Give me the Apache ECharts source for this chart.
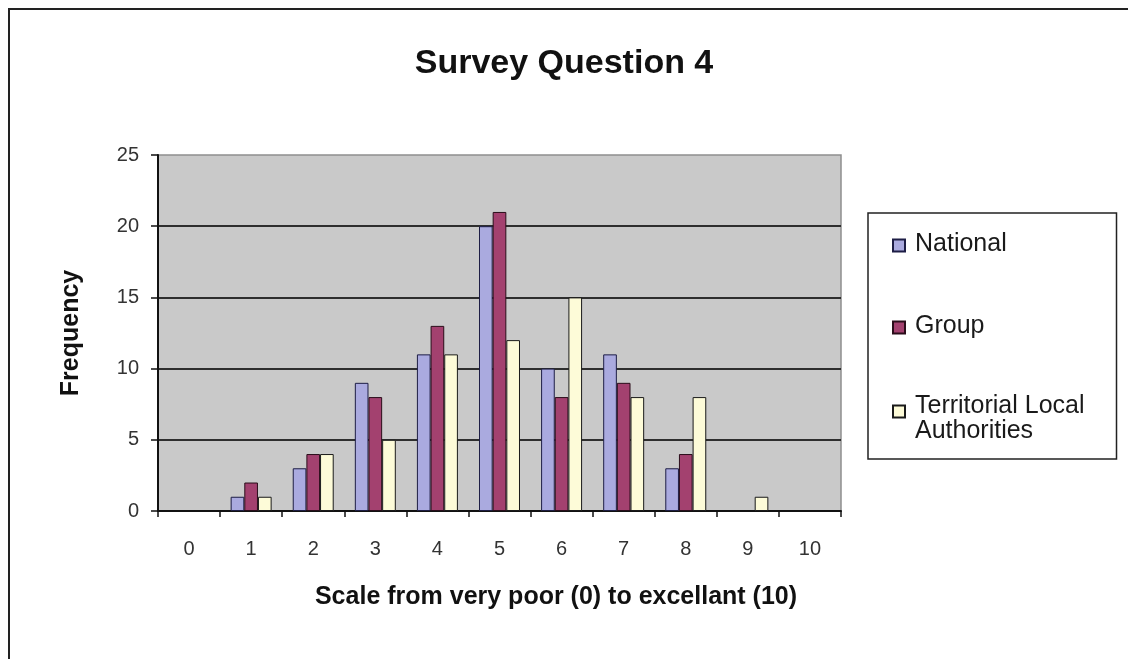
<!DOCTYPE html>
<html>
<head>
<meta charset="utf-8">
<title>Survey Question 4</title>
<script src="https://cdn.jsdelivr.net/npm/echarts@6/dist/echarts.min.js"></script>
<style>
  html, body { margin: 0; padding: 0; background: #ffffff; }
  #chart { width: 1128px; height: 659px; }
</style>
</head>
<body>
<div id="chart"></div>
<script>
// Scale points 0..10 on the x axis
const categories = ['0', '1', '2', '3', '4', '5', '6', '7', '8', '9', '10'];

// Frequency of answers per respondent group
const nationalValues = [0, 1, 3, 9, 11, 20, 10, 11, 3, 0, 0];
const groupValues = [0, 2, 4, 8, 13, 21, 8, 9, 4, 0, 0];
const territorialValues = [0, 1, 4, 5, 11, 12, 15, 8, 8, 1, 0];

const seriesNames = ['National', 'Group', 'Territorial Local\nAuthorities'];

const FONT = "'Liberation Sans', Arial, Helvetica, sans-serif";

// Legend icons: a small square inside a taller box so the square lines up with the first text line
const iconSingle = 'path://M0,0 M17,37 M0,14h12v12h-12z';
const iconDouble = 'path://M0,0 M17,37 M0,5.5h12v12h-12z';

// Zero counts get no outline, so empty categories stay empty
function barData(values) {
  return values.map(function (v) {
    return v === 0 ? { value: v, itemStyle: { borderWidth: 0, opacity: 0 } } : v;
  });
}

const chart = echarts.init(document.getElementById('chart'), null, { renderer: 'canvas' });

const option = {
  backgroundColor: '#ffffff',
  animation: false,
  textStyle: { fontFamily: FONT },
  title: {
    text: 'Survey Question 4',
    left: 'center',
    top: 47,
    padding: 0,
    textStyle: { fontFamily: FONT, fontSize: 34, fontWeight: 'bold', color: '#111111' }
  },
  graphic: [{
    type: 'rect',
    z: -10,
    shape: { x: 9, y: 9, width: 1200, height: 700 },
    style: { fill: 'none', stroke: '#222222', lineWidth: 2 }
  }],
  legend: {
    orient: 'vertical',
    left: 868,
    top: 213,
    padding: [11.5, 32, 10.5, 24],
    itemGap: 43,
    itemWidth: 17,
    itemHeight: 37,
    backgroundColor: '#ffffff',
    borderColor: '#222222',
    borderWidth: 1.5,
    textStyle: { fontFamily: FONT, fontSize: 25, color: '#1a1a1a' },
    data: [
      { name: seriesNames[0], icon: iconSingle },
      { name: seriesNames[1], icon: iconSingle },
      { name: seriesNames[2], icon: iconDouble, textStyle: { padding: [10, 0, 0, 0], lineHeight: 25 } }
    ]
  },
  grid: {
    left: 158,
    right: 287,
    top: 155,
    bottom: 148,
    show: true,
    backgroundColor: '#c9c9c9',
    borderColor: '#8e8e8e',
    borderWidth: 1.5
  },
  xAxis: {
    type: 'category',
    data: categories,
    boundaryGap: true,
    name: 'Scale from very poor (0) to excellant (10)',
    nameLocation: 'middle',
    nameGap: 73.5,
    nameTextStyle: {
      fontFamily: FONT, fontSize: 25, fontWeight: 'bold', color: '#111111',
      padding: [0, 0, 0, 113]
    },
    axisLine: { show: true, lineStyle: { color: '#111111', width: 2 } },
    axisTick: { show: true, length: 6, lineStyle: { color: '#111111', width: 1.5 } },
    axisLabel: { fontFamily: FONT, fontSize: 20, color: '#333333', margin: 28 },
    splitLine: { show: false }
  },
  yAxis: {
    type: 'value',
    min: 0,
    max: 25,
    interval: 5,
    name: 'Frequency',
    nameLocation: 'middle',
    nameGap: 74.5,
    nameTextStyle: { fontFamily: FONT, fontSize: 25, fontWeight: 'bold', color: '#111111' },
    axisLine: { show: true, lineStyle: { color: '#111111', width: 2 } },
    axisTick: { show: true, length: 7, lineStyle: { color: '#111111', width: 1.5 } },
    axisLabel: { fontFamily: FONT, fontSize: 20, color: '#333333', margin: 19 },
    splitLine: {
      show: true,
      showMaxLine: false,
      lineStyle: { color: '#2e2e2e', width: 2 }
    }
  },
  series: [
    {
      name: seriesNames[0],
      type: 'bar',
      data: barData(nationalValues),
      barGap: '0%',
      barCategoryGap: '34%',
      itemStyle: { color: '#aaaadf', borderColor: '#1d1d45', borderWidth: 1 }
    },
    {
      name: seriesNames[1],
      type: 'bar',
      data: barData(groupValues),
      barGap: '0%',
      barCategoryGap: '34%',
      itemStyle: { color: '#a3416f', borderColor: '#2a0d1a', borderWidth: 1 }
    },
    {
      name: seriesNames[2],
      type: 'bar',
      data: barData(territorialValues),
      barGap: '0%',
      barCategoryGap: '34%',
      itemStyle: { color: '#fdfbd8', borderColor: '#1a1a1a', borderWidth: 1 }
    }
  ]
};

chart.setOption(option);
</script>
</body>
</html>
